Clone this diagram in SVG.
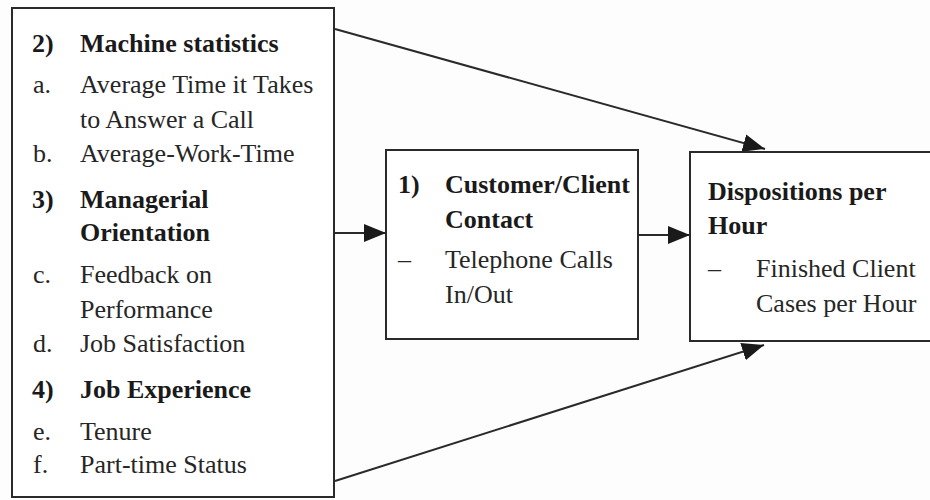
<svg xmlns="http://www.w3.org/2000/svg" width="930" height="500" viewBox="0 0 930 500">
<style>
.box{fill:#fff;stroke:#2a2a2a;stroke-width:2}
.t{font-family:"Liberation Serif","Times New Roman",serif;font-size:26px;fill:#262626}
.b{font-weight:bold;fill:#1a1a1a}
.c{stroke:#2a2a2a;stroke-width:2;fill:none}
</style>
<defs>
<marker id="ah" markerUnits="userSpaceOnUse" markerWidth="24" markerHeight="20" viewBox="0 0 24 20" refX="22" refY="10" orient="auto">
<path d="M0,1 L22,10 L0,19 Z" fill="#1a1a1a"/>
</marker>
</defs>
<rect width="930" height="500" fill="#fdfdfd"/>
<g id="connectors">
<line class="c" x1="335" y1="29" x2="765" y2="149" marker-end="url(#ah)"/>
<line class="c" x1="335" y1="481" x2="764" y2="345" marker-end="url(#ah)"/>
<line class="c" x1="335" y1="233" x2="386" y2="233" marker-end="url(#ah)"/>
<line class="c" x1="638" y1="235" x2="690" y2="235" marker-end="url(#ah)"/>
</g>
<g id="left">
<rect class="box" x="12" y="8" width="322" height="489"/>
<text class="t b" x="32" y="52">2)</text><text class="t b" x="80" y="52">Machine statistics</text>
<text class="t" x="33" y="93">a.</text><text class="t" x="80" y="93">Average Time it Takes</text>
<text class="t" x="80" y="128">to Answer a Call</text>
<text class="t" x="33" y="162">b.</text><text class="t" x="80" y="162">Average-Work-Time</text>
<text class="t b" x="32" y="208">3)</text><text class="t b" x="80" y="208">Managerial</text>
<text class="t b" x="80" y="241">Orientation</text>
<text class="t" x="33" y="283">c.</text><text class="t" x="80" y="283">Feedback on</text>
<text class="t" x="80" y="318">Performance</text>
<text class="t" x="33" y="352">d.</text><text class="t" x="80" y="352">Job Satisfaction</text>
<text class="t b" x="32" y="398">4)</text><text class="t b" x="80" y="398">Job Experience</text>
<text class="t" x="33" y="440">e.</text><text class="t" x="80" y="440">Tenure</text>
<text class="t" x="33" y="473">f.</text><text class="t" x="80" y="473">Part-time Status</text>
</g>
<g id="middle">
<rect class="box" x="386" y="150" width="252" height="189"/>
<text class="t b" x="398" y="193">1)</text><text class="t b" x="445" y="193">Customer/Client</text>
<text class="t b" x="445" y="228">Contact</text>
<text class="t" x="398" y="268">–</text><text class="t" x="445" y="268">Telephone Calls</text>
<text class="t" x="445" y="303">In/Out</text>
</g>
<g id="right">
<rect class="box" x="690" y="152" width="250" height="189"/>
<text class="t b" x="708" y="200">Dispositions per</text>
<text class="t b" x="708" y="234">Hour</text>
<text class="t" x="708" y="277">–</text><text class="t" x="756" y="277">Finished Client</text>
<text class="t" x="756" y="312">Cases per Hour</text>
</g>
</svg>
